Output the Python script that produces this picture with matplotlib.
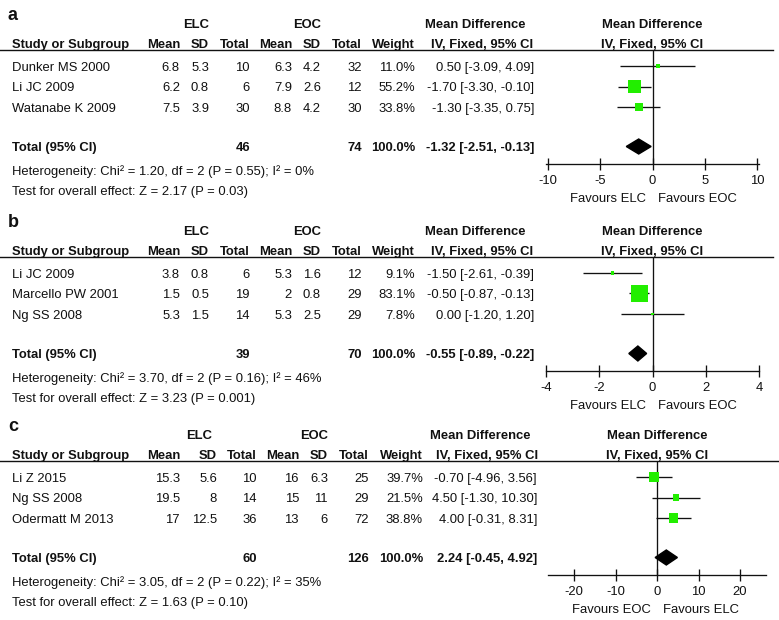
import matplotlib
matplotlib.use('Agg')
import matplotlib.pyplot as plt
from matplotlib.patches import Polygon

plt.rcParams['font.family'] = ['Liberation Sans', 'DejaVu Sans']
plt.rcParams['axes.unicode_minus'] = False

# ---------------- data ----------------
panel_labels = ['a', 'b', 'c']
studies = [['Dunker MS 2000', 'Li JC 2009', 'Watanabe K 2009'],
           ['Li JC 2009', 'Marcello PW 2001', 'Ng SS 2008'],
           ['Li Z 2015', 'Ng SS 2008', 'Odermatt M 2013']]
elc_mean = [[6.8, 6.2, 7.5], [3.8, 1.5, 5.3], [15.3, 19.5, 17]]
elc_sd = [[5.3, 0.8, 3.9], [0.8, 0.5, 1.5], [5.6, 8, 12.5]]
elc_n = [[10, 6, 30], [6, 19, 14], [10, 14, 36]]
eoc_mean = [[6.3, 7.9, 8.8], [5.3, 2, 5.3], [16, 15, 13]]
eoc_sd = [[4.2, 2.6, 4.2], [1.6, 0.8, 2.5], [6.3, 11, 6]]
eoc_n = [[32, 12, 30], [12, 29, 29], [25, 29, 72]]
weights = [[11.0, 55.2, 33.8], [9.1, 83.1, 7.8], [39.7, 21.5, 38.8]]
md = [[0.50, -1.70, -1.30], [-1.50, -0.50, 0.00], [-0.70, 4.50, 4.00]]
md_lo = [[-3.09, -3.30, -3.35], [-2.61, -0.87, -1.20], [-4.96, -1.30, -0.31]]
md_hi = [[4.09, -0.10, 0.75], [-0.39, -0.13, 1.20], [3.56, 10.30, 8.31]]
total_elc = [46, 39, 60]
total_eoc = [74, 70, 126]
pooled = [-1.32, -0.55, 2.24]
pooled_lo = [-2.51, -0.89, -0.45]
pooled_hi = [-0.13, -0.22, 4.92]
chi2 = ['1.20', '3.70', '3.05']
het_p = ['0.55', '0.16', '0.22']
i2 = ['0%', '46%', '35%']
z_val = ['2.17', '3.23', '1.63']
z_p = ['0.03', '0.001', '0.10']
xticks = [[-10, -5, 0, 5, 10], [-4, -2, 0, 2, 4], [-20, -10, 0, 10, 20]]
favours = [('Favours ELC', 'Favours EOC'),
           ('Favours ELC', 'Favours EOC'),
           ('Favours EOC', 'Favours ELC')]

# ---------------- layout (pixels) ----------------
W, H = 779, 620
FS = 9.4
INK = '#111111'
GREEN = '#22ee00'
top_line = [50, 257, 461]
line_end = [773, 773, 778]
col_right = [[180, 209, 250, 292, 321, 362, 415, 534],
             [180, 209, 250, 292, 321, 362, 415, 534],
             [180, 217, 257, 299, 328, 369, 423, 537]]
group_x = [(196, 307, 475), (196, 307, 475), (199, 314, 480)]
ci_head_x = [482, 482, 487]
zero_px = [652.5, 652.5, 657]
px_per_unit = [10.45, 26.6, 4.15]
x_half = [10.2, 4.02, 26.3]
ROW0, ROWSTEP, TOTAL_DY, AXIS_DY = 16, 20.5, 96.5, 113.5


def txt(bg, x, y, s, ha='left', bold=False, size=FS):
    # y is the visual centre of the text line
    bg.text(x, y + 0.36 * size * 100 / 72, s, ha=ha, va='baseline', fontsize=size,
            color=INK, fontweight='bold' if bold else 'normal')


def fmt(v):
    return f'{v:g}'


def draw_table(bg, k):
    top = top_line[k]
    cr = col_right[k]
    bg.text(8, top - 30, panel_labels[k], fontsize=13, fontweight='bold',
            color=INK, va='baseline')
    gx = group_x[k]
    txt(bg, gx[0], top - 27, 'ELC', 'center', True)
    txt(bg, gx[1], top - 27, 'EOC', 'center', True)
    txt(bg, gx[2], top - 27, 'Mean Difference', 'center', True)
    txt(bg, zero_px[k], top - 27, 'Mean Difference', 'center', True)

    heads = ['Mean', 'SD', 'Total', 'Mean', 'SD', 'Total', 'Weight']
    txt(bg, 12, top - 7, 'Study or Subgroup', 'left', True)
    for x, h in zip(cr, heads):
        txt(bg, x, top - 7, h, 'right', True)
    txt(bg, ci_head_x[k], top - 7, 'IV, Fixed, 95% CI', 'center', True)
    txt(bg, zero_px[k], top - 7, 'IV, Fixed, 95% CI', 'center', True)
    bg.plot([0, line_end[k]], [top, top], color=INK, lw=1.0)

    for i, name in enumerate(studies[k]):
        y = top + ROW0 + ROWSTEP * i
        vals = [fmt(elc_mean[k][i]), fmt(elc_sd[k][i]), str(elc_n[k][i]),
                fmt(eoc_mean[k][i]), fmt(eoc_sd[k][i]), str(eoc_n[k][i]),
                f'{weights[k][i]:.1f}%',
                f'{md[k][i]:.2f} [{md_lo[k][i]:.2f}, {md_hi[k][i]:.2f}]']
        txt(bg, 12, y, name)
        for x, v in zip(cr, vals):
            txt(bg, x, y, v, 'right')

    # pooled row
    y = top + TOTAL_DY
    txt(bg, 12, y, 'Total (95% CI)', 'left', True)
    txt(bg, cr[2], y, str(total_elc[k]), 'right', True)
    txt(bg, cr[5], y, str(total_eoc[k]), 'right', True)
    txt(bg, cr[6], y, '100.0%', 'right', True)
    txt(bg, cr[7], y, f'{pooled[k]:.2f} [{pooled_lo[k]:.2f}, {pooled_hi[k]:.2f}]',
        'right', True)
    txt(bg, 12, top + 120,
        f'Heterogeneity: Chi\u00b2 = {chi2[k]}, df = 2 (P = {het_p[k]}); I\u00b2 = {i2[k]}')
    txt(bg, 12, top + 140, f'Test for overall effect: Z = {z_val[k]} (P = {z_p[k]})')

    txt(bg, zero_px[k] - 6, top + 147.5, favours[k][0], 'right')
    txt(bg, zero_px[k] + 6, top + 147.5, favours[k][1], 'left')


def draw_forest(fig, k):
    top = top_line[k]
    axis_y = top + AXIS_DY
    left = zero_px[k] - x_half[k] * px_per_unit[k]
    width = 2 * x_half[k] * px_per_unit[k]
    ax = fig.add_axes([left / W, 1 - axis_y / H, width / W, AXIS_DY / H])
    ax.patch.set_visible(False)
    ax.set_xlim(-x_half[k], x_half[k])
    ax.set_ylim((AXIS_DY - ROW0) / ROWSTEP, -ROW0 / ROWSTEP)

    ax.axvline(0, color=INK, lw=0.95, zorder=1)
    rows = range(len(studies[k]))
    ax.hlines(list(rows), md_lo[k], md_hi[k], color=INK, lw=0.95, zorder=2)
    sizes = [(0.65 * w ** 0.74 * 0.72) ** 2 for w in weights[k]]
    ax.scatter(md[k], list(rows), s=sizes, marker='s', color=GREEN,
               linewidths=0, zorder=3, clip_on=False)

    # pooled diamond
    yt = (TOTAL_DY - ROW0) / ROWSTEP
    h = 7.5 / ROWSTEP
    ax.add_patch(Polygon([(pooled_lo[k], yt), (pooled[k], yt - h),
                          (pooled_hi[k], yt), (pooled[k], yt + h)],
                         closed=True, color='black', zorder=3))

    for s in ['left', 'right', 'top']:
        ax.spines[s].set_visible(False)
    ax.spines['bottom'].set_linewidth(0.95)
    ax.spines['bottom'].set_color(INK)
    ax.set_yticks([])
    ax.set_xticks(xticks[k])
    ax.tick_params(axis='x', direction='inout', length=8.6, width=0.95,
                   labelsize=FS, colors=INK, pad=4)


def main():
    fig = plt.figure(figsize=(W / 100, H / 100), dpi=100)
    bg = fig.add_axes([0, 0, 1, 1])
    bg.set_xlim(0, W)
    bg.set_ylim(H, 0)
    bg.axis('off')
    for k in range(3):
        draw_table(bg, k)
        draw_forest(fig, k)
    fig.savefig('out.png', dpi=100, facecolor='white')


if __name__ == '__main__':
    main()
